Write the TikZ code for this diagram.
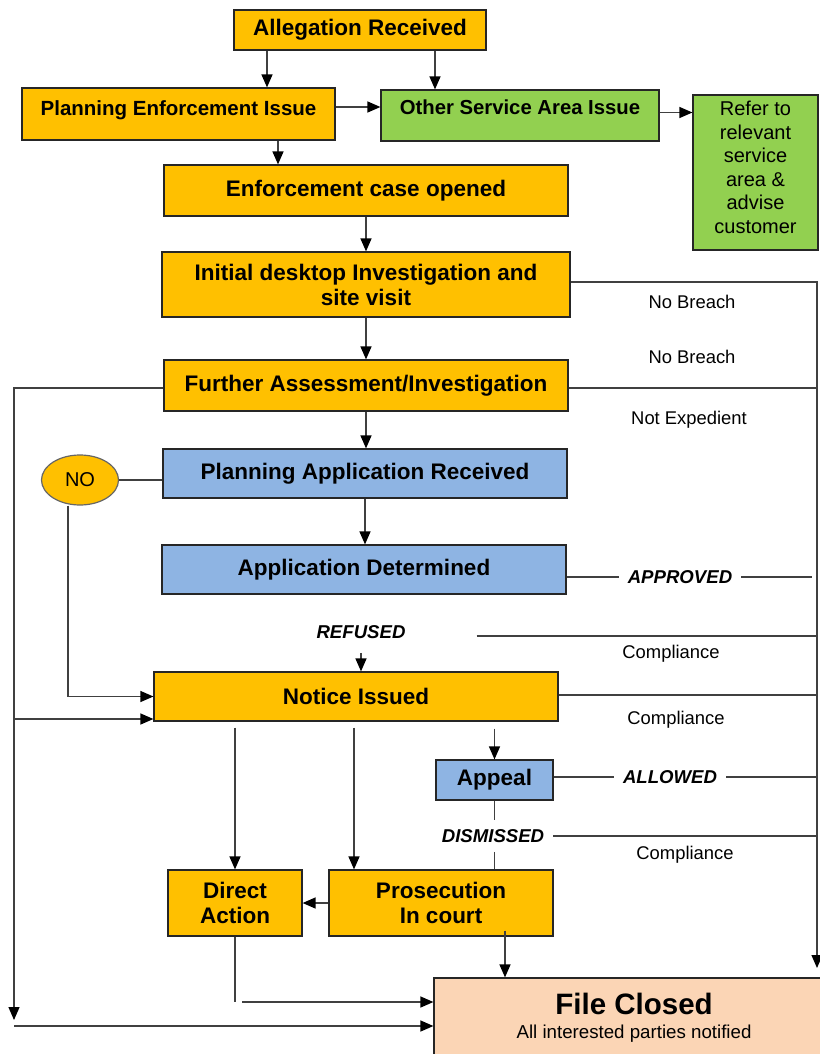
\documentclass[tikz,border=0pt]{standalone}
\usepackage{fontspec}
\setmainfont{Liberation Sans}
\usetikzlibrary{arrows.meta,shapes.geometric}
\definecolor{amber}{HTML}{FFC000}
\definecolor{leaf}{HTML}{92D050}
\definecolor{sky}{HTML}{8EB4E3}
\definecolor{peach}{HTML}{FBD5B5}
\definecolor{wire}{HTML}{404040}
\begin{document}
\begin{tikzpicture}[x=1pt,y=-1pt,
  box/.style={draw=black!85, line width=1.2pt, inner sep=0pt, align=center,
    font=\fontsize{22.5}{25}\selectfont\bfseries},
  wire/.style={draw=wire, line width=1.3pt},
  arr/.style={wire, -{Triangle[length=13pt,width=11pt,color=black]}},
  tag/.style={font=\fontsize{18.4}{20}\selectfont},
  verdict/.style={font=\fontsize{18.6}{20}\selectfont\bfseries\itshape, inner sep=9pt}]
\useasboundingbox (0,0) rectangle (819,1054);

\node[box, fill=amber, minimum width=252pt, minimum height=40pt] (alleg) at (360,30) {Allegation Received};
\node[box, fill=amber, minimum width=313pt, minimum height=52pt, font=\fontsize{20.5}{25}\selectfont\bfseries,
  text height=15pt, text depth=12pt] (planenf) at (178.5,114) {Planning Enforcement Issue};
\node[box, fill=leaf, minimum width=278pt, minimum height=51pt, font=\fontsize{20.3}{25}\selectfont\bfseries,
  text height=15pt, text depth=16pt] (other) at (520,115.5) {Other Service Area Issue};
\node[box, fill=leaf, minimum width=125pt, minimum height=155pt, text depth=10pt,
  font=\fontsize{20}{23.5}\selectfont] (refer) at (755.5,172.5) {Refer to\\relevant\\service\\area \&\\advise\\customer};
\node[box, fill=amber, minimum width=404pt, minimum height=51pt] (encase) at (366,190.5) {Enforcement case opened};
\node[box, fill=amber, minimum width=408pt, minimum height=65pt] (initial) at (366,284.5) {Initial desktop Investigation and\\site visit};
\node[box, fill=amber, minimum width=404pt, minimum height=51pt] (further) at (366,385.5) {Further Assessment/Investigation};
\node[box, fill=sky, minimum width=404pt, minimum height=49pt] (planapp) at (365,473.5) {Planning Application Received};
\node[box, fill=sky, minimum width=404pt, minimum height=49pt] (appdet) at (364,569.5) {Application Determined};
\node[ellipse, draw=black!60, line width=1.2pt, fill=amber, minimum width=77pt, minimum height=50pt,
  font=\fontsize{20}{22}\selectfont] (no) at (80,480) {NO};
\node[box, fill=amber, minimum width=404pt, minimum height=49pt] (notice) at (356,696.5) {Notice Issued};
\node[box, fill=sky, minimum width=117pt, minimum height=40pt] (appeal) at (494.5,780) {Appeal};
\node[box, fill=amber, minimum width=134pt, minimum height=66pt] (direct) at (235,903) {Direct\\Action};
\node[box, fill=amber, minimum width=224pt, minimum height=66pt] (prosec) at (441,903) {Prosecution\\In court};
\node[box, fill=peach, minimum width=400pt, minimum height=80pt, font=\fontsize{18.7}{22}\selectfont] (closed) at (634,1018)
  {{\fontsize{29.5}{32}\selectfont\bfseries File Closed}\\[2pt]All interested parties notified};

\node[verdict] (refused) at (361,632) {REFUSED};
\node[verdict] (approved) at (680,577) {APPROVED};
\node[verdict] (allowed) at (670,777) {ALLOWED};
\node[verdict] (dismissed) at (493,836) {DISMISSED};
\node[tag] (nb1) at (692,302) {No Breach};
\node[tag] (nb2) at (692,357) {No Breach};
\node[tag] (notexp) at (689,420) {Not Expedient};
\node[tag] (comp1) at (671,654) {Compliance};
\node[tag] (comp2) at (676,720) {Compliance};
\node[tag] (comp3) at (685,855) {Compliance};

\coordinate (rtrunk) at (817,282);
\coordinate (rend) at (817,968);
\coordinate (dturn) at (direct.south |- 0,1002);
\coordinate (ltop) at (14,388);
\coordinate (lend) at (14,1020);
\coordinate (lbranch) at (14,719);
\coordinate (lbot) at (14,1026);
\coordinate (pn) at ([xshift=-87pt]prosec.north);

\draw[arr] ([xshift=-93pt]alleg.south) -- ([xshift=-93pt]alleg.south |- planenf.north);
\draw[arr] ([xshift=75pt]alleg.south) -- ([xshift=75pt]alleg.south |- other.north);
\draw[arr] ([yshift=7pt]planenf.east) -- ([yshift=7pt]planenf.east -| other.west);
\draw[arr] ([yshift=3pt]other.east) -- ([yshift=3pt]other.east -| refer.west);
\draw[arr] ([xshift=99.5pt]planenf.south) -- ([xshift=99.5pt]planenf.south |- encase.north);
\draw[arr] (encase.south) -- (initial.north);
\draw[arr] (initial.south) -- (further.north);
\draw[arr] (further.south) -- (further.south |- planapp.north);
\draw[arr] (planapp.south) -- (planapp.south |- appdet.north);
\draw[arr] ([yshift=-5pt]refused.south) -- (refused.south |- notice.north);

\draw[arr] (initial.east |- rtrunk) -- (rtrunk) -- (rend);
\draw[wire] ([yshift=-2.5pt]further.east) -- ([yshift=-2.5pt]further.east -| rtrunk);
\draw[wire] (appdet.east |- approved) -- (approved.west);
\draw[wire] (approved.east) -- ([xshift=-5pt]approved.east -| rtrunk);
\draw[wire] ([shift={(62pt,-4pt)}]refused.east) coordinate (rf) -- (rf -| rtrunk);
\draw[wire] ([yshift=1.5pt]notice.east) -- ([yshift=1.5pt]notice.east -| rtrunk);
\draw[wire] (appeal.east |- allowed) -- (allowed.west);
\draw[wire] (allowed.east) -- (allowed.east -| rtrunk);
\draw[wire] (dismissed.east) -- (dismissed.east -| rtrunk);

\draw[arr] ([yshift=-7pt]notice.south -| appeal.north) -- (appeal.north);
\draw[wire] (appeal.south) -- (appeal.south |- dismissed.north);
\draw[wire] (appeal.south |- dismissed.south) -- (appeal.south |- prosec.north);
\draw[arr] ([yshift=-6pt]notice.south -| direct.north) -- (direct.north);
\draw[arr] ([yshift=-6pt]notice.south -| pn) -- (pn);
\draw[arr] (prosec.west) -- (direct.east);
\draw[arr] ([shift={(64pt,6pt)}]prosec.south) coordinate (pc) -- (pc |- closed.north);
\draw[wire] (direct.south) -- (dturn);
\draw[arr] ([xshift=7pt]dturn) -- (dturn -| closed.west);

\draw[wire] (planapp.west |- no.east) -- (no.east);
\draw[arr] ([xshift=-12pt]no.south) |- (notice.west);
\draw[arr] (further.west |- ltop) -| (lend);
\draw[arr] (lbranch) -- (lbranch -| notice.west);
\draw[arr] (lbot) -- (lbot -| closed.west);
\end{tikzpicture}
\end{document}
